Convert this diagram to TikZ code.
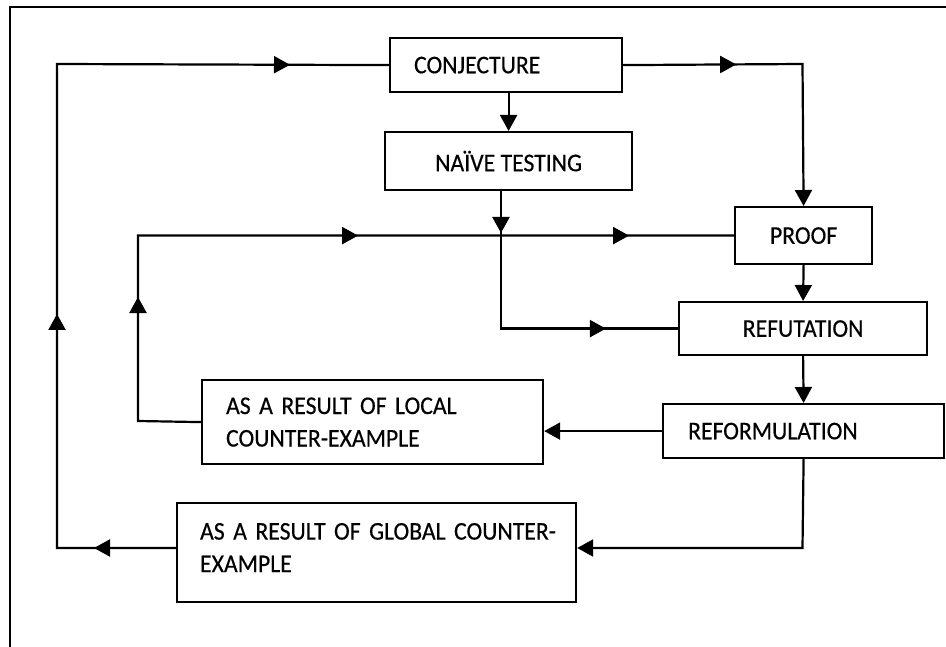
\documentclass[tikz,border=0pt]{standalone}
\usepackage{fontspec}
\setmainfont{Carlito}[FakeStretch=0.93,FakeBold=0.4]
\usetikzlibrary{arrows.meta,decorations.markings}
\begin{document}
\begin{tikzpicture}[x=1pt,y=-1pt,
  line width=2pt, line join=miter,
  >={Triangle[length=16pt,width=17pt]},
  conn/.style={draw, line width=2.2pt},
  box/.style={draw, line width=2.2pt, anchor=north west, inner ysep=0pt,
    font=\fontsize{25.5}{32.5}\selectfont},
  lbox/.style={box, align=left, inner xsep=#1},
]
\useasboundingbox (0,0) rectangle (946,647);
\fill[white] (0,0) rectangle (946,647);
% frame
\draw[line width=2pt] (948,7) -- (10,7) -- (10,649);

% boxes
\node[lbox=24pt, text width=184pt, minimum height=54pt] (conj) at (389,37) {CONJECTURE};
\node[box, minimum width=247pt, minimum height=58pt] (naive) at (384,131) {NAÏVE TESTING};
\node[box, minimum width=137pt, minimum height=57pt] (proof) at (734,206) {PROOF};
\node[box, minimum width=248pt, minimum height=53pt] (refut) at (678,301) {REFUTATION};
\node[lbox=25pt, text width=231pt, minimum height=54pt] (reform) at (662,403) {REFORMULATION};
\node[lbox=24pt, text width=293pt, minimum height=84pt] (local) at (201,379) {AS A RESULT OF LOCAL\\COUNTER-EXAMPLE};
\node[lbox=23pt, text width=353pt, minimum height=99pt, text height=20pt, text depth=46pt] (global) at (176,502) {\mbox{AS A RESULT OF GLOBAL COUNTER-}\\EXAMPLE};

% coordinates
\coordinate (gcorner) at (57,548);
\coordinate (ltop) at (57,64);
\coordinate (lcorner) at (138,421);
\coordinate (pcorner) at (802.5,64);
\coordinate (jtop) at (501,189);
\coordinate (rcorner) at (802.5,548);

% conjecture -> naive testing
\draw[conn,->] (naive.north |- conj.south) -- (naive.north);
% conjecture -> proof
\draw[conn,->,
  decoration={markings, mark=at position 113pt with {\arrow{>}}},
  postaction={decorate}]
  (conj.east) -- (pcorner) -- (proof.north);
% naive testing -> refutation (through junction)
\draw[conn,
  decoration={markings,
    mark=at position 44pt with {\arrow{>}},
    mark=at position 244.5pt with {\arrow{>}}},
  postaction={decorate}]
  (jtop) |- (refut.west);
% proof -> refutation
\draw[conn,->] (proof.south) -- (refut.north);
% refutation -> reformulation
\draw[conn,->] (refut.south) -- (reform.north);
% reformulation -> local
\draw[conn,->] (reform.west) -- (reform.west -| local.east);
% reformulation -> global
\draw[conn,->] (reform.south) -- (rcorner) -- (rcorner -| global.east);
% local -> proof (loop)
\draw[conn,
  decoration={markings,
    mark=at position 187pt with {\arrow{>}},
    mark=at position 468.5pt with {\arrow{>}},
    mark=at position 739.5pt with {\arrow{>}}},
  postaction={decorate}]
  (local.west) -- (lcorner) |- (proof.west);
% global -> conjecture (loop)
\draw[conn,
  decoration={markings,
    mark=at position 82pt with {\arrow{>}},
    mark=at position 353pt with {\arrow{>}},
    mark=at position 836pt with {\arrow{>}}},
  postaction={decorate}]
  (gcorner -| global.west) -- (gcorner) -- (ltop) -- (conj.west);
\end{tikzpicture}
\end{document}
